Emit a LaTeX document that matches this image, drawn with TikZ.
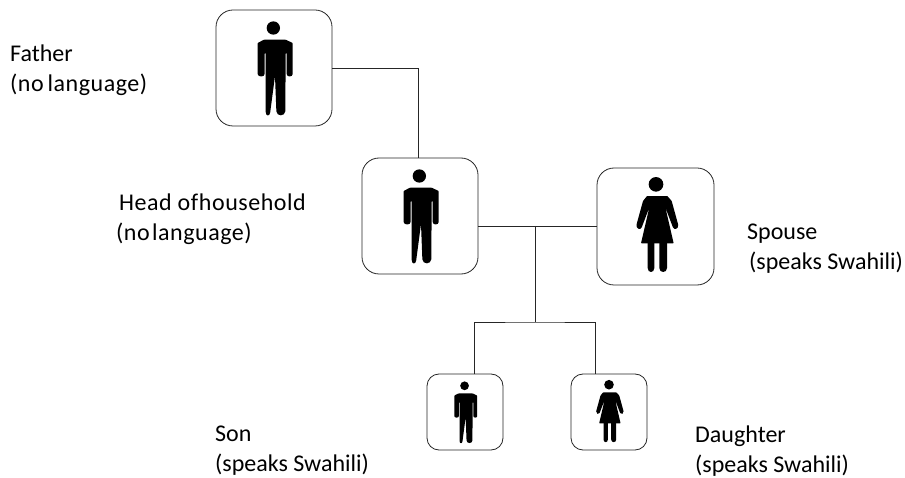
\documentclass[tikz,border=0pt]{standalone}
\usepackage{fontspec}
\setmainfont{Carlito}
\newfontfamily\spacedfont[LetterSpace=2.2]{Carlito}
\newcommand{\narrowgap}{\hspace{0.1em}}
\tikzset{
  x=1pt,y=-1pt,
  personbox/.style={draw=black!85,line width=0.8pt,rounded corners=#1,fill=white,inner sep=0pt,outer sep=0pt},
  wire/.style={draw=black!85,line width=0.8pt},
  caption/.style={anchor=west,align=left,inner sep=0pt,font=\fontsize{24}{30}\selectfont},
  pics/manfig/.style={code={
    \fill[black] (-2,-120) circle[radius=20];
    \fill[black,rounded corners=0.6pt] (-30,-85) -- (35,-85) -- (56,-75) -- (56,16)
      .. controls (56,28) and (38,28) .. (38,16) -- (38,-45) -- (35,-45) -- (34,128)
      .. controls (33,146) and (8,146) .. (7,128) -- (3,24) -- (-11,130)
      .. controls (-12,146) and (-25,146) .. (-25,130) -- (-25,-45) -- (-28,-45) -- (-28,16)
      .. controls (-28,28) and (-49,28) .. (-49,16) -- (-49,-75) -- cycle;
  }},
  pics/womanfig/.style={code={
    \fill[black] (0,-125) circle[radius=22];
    \fill[black,rounded corners=0.6pt] (-27,-90) -- (34,-90) -- (47,-75) -- (66,-6)
      .. controls (69,8) and (55,14) .. (50,2) -- (28,-56) -- (53,52) -- (-45,52) -- (-20,-56) -- (-42,2)
      .. controls (-47,14) and (-61,8) .. (-58,-6) -- (-39,-75) -- cycle;
    \fill[black] (-25,50) -- (-5,50) -- (-5,126) .. controls (-5,142) and (-25,142) .. (-25,126) -- cycle;
    \fill[black] (10,50) -- (33,50) -- (33,126) .. controls (33,142) and (10,142) .. (10,126) -- cycle;
  }}
}
\begin{document}
\begin{tikzpicture}
\useasboundingbox (0,0) rectangle (905,478);
\node[personbox=17pt,minimum size=116pt] (father) at (274,68) {};
\node[personbox=17pt,minimum size=116pt] (head) at (420,216) {};
\node[personbox=17pt,minimum width=117pt,minimum height=117pt] (spouse) at (655.5,226.5) {};
\node[personbox=12pt,minimum size=76pt] (son) at (465,412) {};
\node[personbox=12pt,minimum size=76pt] (daughter) at (609,412) {};
\pic[scale=0.3333] at (274,68) {manfig};
\pic[scale=0.3333] at (420,216) {manfig};
\pic[scale=0.3333] at (656,226) {womanfig};
\pic[scale=0.2184] at (465,412) {manfig};
\pic[scale=0.2184] at (609,412) {womanfig};
\coordinate (fatherout) at (father.east);
\coordinate (headin) at ([xshift=-2pt]head.north);
\coordinate (headout) at ([yshift=-10pt]head.east);
\coordinate (spousein) at (spouse.west |- headout);
\coordinate (junction) at (535,226);
\coordinate (bus) at (535,322);
\coordinate (soninp) at ([xshift=9pt]son.north);
\coordinate (daughterin) at ([xshift=-14pt]daughter.north);
\draw[wire] (fatherout) -| (headin);
\draw[wire] (headout) -- (spousein);
\draw[wire] (junction) -- (bus);
\draw[wire] (soninp) |- (bus) -| (daughterin);
\node[caption] (c1) at (10,70) {Father\\{\spacedfont (no\hspace{0.16em}language)}};
\node[caption] (c2) at (116,219) {\hspace*{3pt}{\spacedfont Head of\hspace{0.03em}household}\\{\spacedfont (no\narrowgap language)}};
\node[caption] (c3) at (747,249) {Spouse\\\hspace*{2pt}(speaks Swahili)};
\node[caption] (c4) at (215,451) {Son\\(speaks Swahili)};
\node[caption] (c5) at (695,451) {Daughter\\(speaks Swahili)};
\end{tikzpicture}
\end{document}
